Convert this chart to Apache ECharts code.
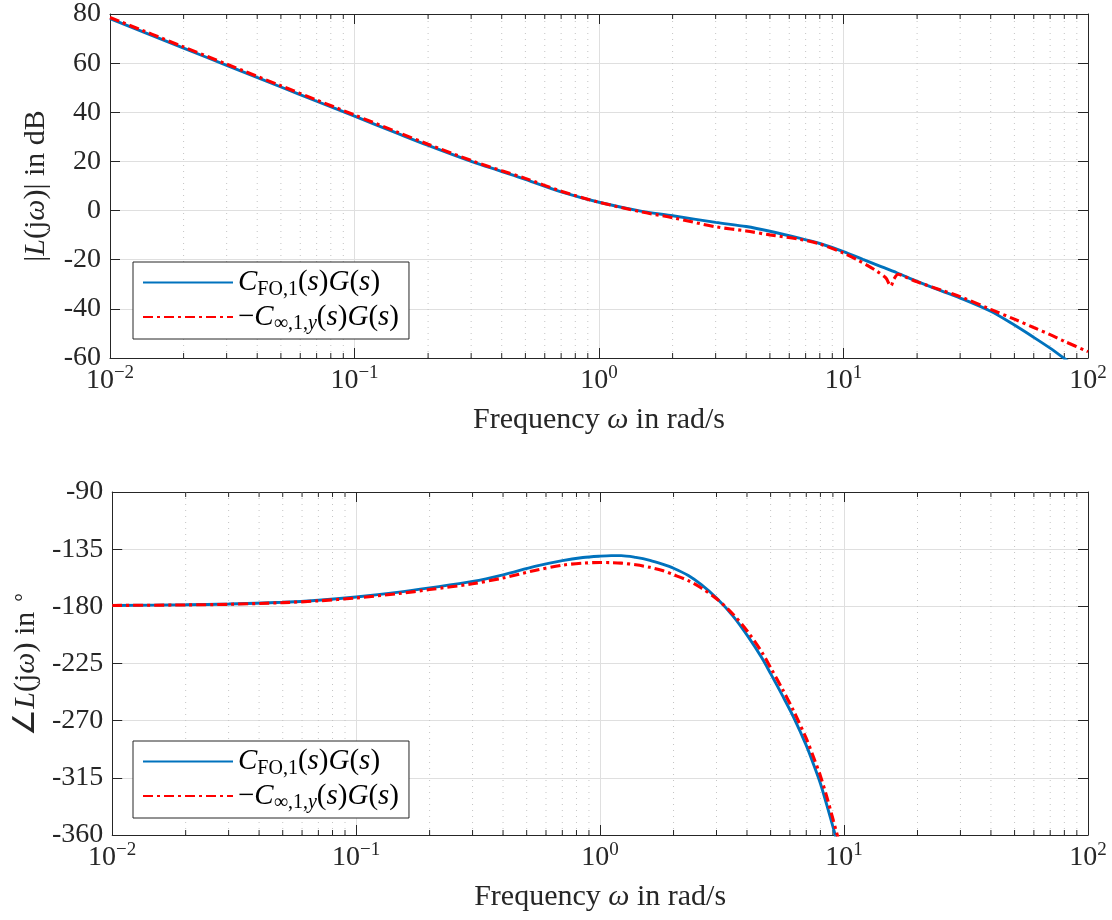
<!DOCTYPE html>
<html>
<head>
<meta charset="utf-8">
<script src="https://cdn.jsdelivr.net/npm/echarts@6/dist/echarts.min.js"></script>
<style>
html,body{margin:0;padding:0;background:#fff;}
#chart{width:1112px;height:920px;}
</style>
</head>
<body>
<div id="chart"></div>
<script>
// ---------- data ----------
const seriesNames = ['CFO', 'Hinf'];
const magTicks = [-60, -40, -20, 0, 20, 40, 60, 80];
const phaseTicks = [-360, -315, -270, -225, -180, -135, -90];
const minorFreqs = [0.02,0.03,0.04,0.05,0.06,0.07,0.08,0.09,
                    0.2,0.3,0.4,0.5,0.6,0.7,0.8,0.9,
                    2,3,4,5,6,7,8,9,
                    20,30,40,50,60,70,80,90];

// magnitude, C_FO,1 G  (dB)
const freqMagFO = [0.01,0.02,0.03,0.05,0.07,0.1,0.15,0.2,0.3,0.4,0.5,0.7,1,1.5,2,3,4,5,6.6,8,10,12,14,16.6,20,25,30,40,50,60,70,80,100];
const magFO     = [78.1,66.1,59.1,50.3,44.5,38.4,31.4,26.5,20.0,15.9,12.7,7.6,3.4,-0.3,-2.1,-4.8,-6.5,-8.4,-11.2,-13.4,-16.7,-19.9,-22.5,-25.4,-28.8,-32.6,-35.6,-41.0,-46.6,-51.6,-56.0,-60.2,-67.3];
// magnitude, -C_inf,1,y G  (dB)
const freqMagHinf = [0.01,0.02,0.03,0.05,0.07,0.1,0.15,0.2,0.3,0.4,0.5,0.7,1,1.5,2,3,4,5,6.6,8,10,11.4,12.5,13.7,14.9,15.6,16.1,16.7,17.5,20,25,30,40,50,60,70,80,100];
const magHinf     = [78.6,66.6,59.6,50.8,45.0,38.9,31.9,27.0,20.4,16.2,13.1,7.9,3.4,-0.6,-2.9,-6.6,-8.3,-9.9,-11.7,-13.6,-17.3,-20.1,-22.3,-24.7,-27.4,-30.7,-27.8,-25.9,-26.6,-29.0,-32.3,-35.0,-40.2,-44.2,-47.6,-50.5,-53.2,-57.4];

// phase (deg)
const freqPh  = [0.01,0.02,0.03,0.05,0.07,0.1,0.15,0.2,0.3,0.4,0.54,0.7,0.85,1.0,1.11,1.22,1.4,1.6,1.8,2.0,2.3,2.6,3.0,3.5,4.03,4.6,5.0,5.6,6.2,7.0,7.5,8.0,8.5,9.05,9.5];
const phFO    = [-179.3,-178.8,-178.2,-176.8,-175.2,-172.6,-168.8,-165.5,-160.4,-155.2,-148.6,-144.0,-141.6,-140.5,-140.1,-140.1,-141.5,-143.8,-146.8,-150.0,-155.8,-163.0,-173.5,-187.5,-203.5,-220.5,-233.0,-250.5,-267.0,-289.5,-304.5,-319.5,-336.5,-355.0,-370.0];
const phHinf  = [-179.3,-178.9,-178.4,-177.1,-175.7,-173.4,-169.9,-166.8,-162.2,-157.7,-151.8,-147.6,-146.0,-145.5,-145.6,-146.0,-147.3,-149.3,-151.8,-155.1,-159.8,-165.6,-174.0,-186.0,-200.0,-216.0,-228.3,-245.5,-262.0,-284.0,-298.8,-313.5,-330.0,-349.0,-364.0];

// ---------- helpers ----------
const FONT = 'Liberation Serif';
const AX = '#262626';
const pair = (xs, ys) => xs.map((x, i) => [x, ys[i]]);

const legendRich = {
  n:   {fontFamily: FONT, fontSize: 29, lineHeight: 34, color: '#000'},
  i:   {fontFamily: FONT, fontSize: 29, lineHeight: 34, color: '#000', fontStyle: 'italic'},
  sub: {fontFamily: FONT, fontSize: 20, lineHeight: 18, color: '#000', verticalAlign: 'bottom'},
  subi:{fontFamily: FONT, fontSize: 20, lineHeight: 18, color: '#000', verticalAlign: 'bottom', fontStyle: 'italic'}
};
const legendLabels = {
  CFO:  '{i|C}{sub|FO,1}{n|(}{i|s}{n|)}{i|G}{n|(}{i|s}{n|)}',
  Hinf: '{n|\u2212}{i|C}{sub|\u221E,1,}{subi|y}{n|(}{i|s}{n|)}{i|G}{n|(}{i|s}{n|)}'
};
const axisRich = {
  n:   {fontFamily: FONT, fontSize: 30, lineHeight: 36, color: AX},
  i:   {fontFamily: FONT, fontSize: 30, lineHeight: 36, color: AX, fontStyle: 'italic'},
  sup: {fontFamily: FONT, fontSize: 21, lineHeight: 19, color: AX, verticalAlign: 'top'}
};
const tickRich = {
  b:   {fontFamily: FONT, fontSize: 28, lineHeight: 34, color: AX},
  sup: {fontFamily: FONT, fontSize: 19, lineHeight: 18, color: AX, verticalAlign: 'top'}
};
const xLabelFmt = v => {
  const e = Math.round(Math.log10(v));
  return '{b|10}{sup|' + (e < 0 ? '\u2212' + (-e) : e) + '}';
};

const GRID_LEFT = 110, GRID_W = 978;
const grids = [
  {left: GRID_LEFT, top: 14, width: GRID_W, height: 344},
  {left: GRID_LEFT, top: 492, width: GRID_W, height: 343}
];
const yRanges = [[-60, 80, 20], [-360, -90, 45]];

function xAxes(gi) {
  const base = {
    type: 'log', logBase: 10, min: 0.01, max: 100, gridIndex: gi,
    axisLine: {show: true, onZero: false, lineStyle: {color: AX, width: 1}},
    axisTick: {show: true, inside: true, length: 10, lineStyle: {color: AX}},
    minorTick: {show: false}
  };
  return [
    Object.assign({}, base, {
      position: 'bottom',
      axisLabel: {show: true, margin: 6, formatter: xLabelFmt, rich: tickRich},
      splitLine: {show: true, lineStyle: {color: '#dfdfdf', width: 1}},
      name: '{n|Frequency }{i|\u03C9}{n| in rad/s}',
      nameLocation: 'middle', nameGap: 44,
      nameTextStyle: {rich: axisRich}
    }),
    Object.assign({}, base, {
      position: 'top', axisLabel: {show: false}, splitLine: {show: false}
    })
  ];
}
function yAxes(gi, name) {
  const r = yRanges[gi];
  const base = {
    type: 'value', min: r[0], max: r[1], interval: r[2], gridIndex: gi,
    axisLine: {show: true, onZero: false, lineStyle: {color: AX, width: 1}},
    axisTick: {show: true, inside: true, length: 10, lineStyle: {color: AX}}
  };
  return [
    Object.assign({}, base, {
      position: 'left',
      axisLabel: {show: true, margin: 9, fontFamily: FONT, fontSize: 28, color: AX},
      splitLine: {show: true, lineStyle: {color: '#dfdfdf', width: 1}},
      name: name, nameLocation: 'middle', nameGap: 56, nameRotate: 90,
      nameTextStyle: {rich: axisRich}
    }),
    Object.assign({}, base, {
      position: 'right', axisLabel: {show: false}, splitLine: {show: false}
    })
  ];
}

function minorGridSeries(gi) {
  const r = yRanges[gi];
  return {
    type: 'custom', xAxisIndex: gi * 2, yAxisIndex: gi * 2, silent: true, z: 1,
    data: minorFreqs.map(f => [f]),
    renderItem: (params, api) => {
      const f = api.value(0);
      const b = api.coord([f, r[0]]);
      const t = api.coord([f, r[1]]);
      return {type: 'group', children: [
        {type: 'line', shape: {x1: b[0], y1: b[1], x2: t[0], y2: t[1]},
         style: {stroke: '#c4c4c4', lineWidth: 1, lineDash: [1, 5]}},
        {type: 'line', shape: {x1: b[0], y1: b[1], x2: b[0], y2: b[1] - 5},
         style: {stroke: AX, lineWidth: 1}},
        {type: 'line', shape: {x1: t[0], y1: t[1], x2: t[0], y2: t[1] + 5},
         style: {stroke: AX, lineWidth: 1}}
      ]};
    }
  };
}

function lineSeries(gi, name, data) {
  const isFO = name === 'CFO';
  return {
    type: 'line', name: name, xAxisIndex: gi * 2, yAxisIndex: gi * 2,
    data: data, showSymbol: false, symbol: 'none', smooth: 0.3, clip: true, z: isFO ? 3 : 4,
    lineStyle: isFO ? {color: '#0072BD', width: 2.9, type: 'solid'}
                    : {color: '#FF0000', width: 3.1, type: [10, 4, 3, 4]},
    itemStyle: {color: isFO ? '#0072BD' : '#FF0000'}
  };
}

function legendAt(top) {
  return {
    data: seriesNames, orient: 'vertical', left: 133, top: top,
    itemWidth: 90, itemHeight: 14, itemGap: 3, padding: [6, 10, 5, 9],
    borderColor: AX, borderWidth: 1, backgroundColor: '#fff', borderRadius: 0,
    selectedMode: false,
    itemStyle: {color: 'rgba(0,0,0,0)', borderColor: 'rgba(0,0,0,0)', borderWidth: 0, opacity: 0},
    formatter: n => legendLabels[n],
    textStyle: {rich: legendRich}
  };
}

const chart = echarts.init(document.getElementById('chart'), null, {renderer: 'canvas'});
chart.setOption({
  backgroundColor: '#fff',
  animation: false,
  grid: grids,
  xAxis: [].concat(xAxes(0), xAxes(1)),
  yAxis: [].concat(
    yAxes(0, '{n|\u007C}{i|L}{n|(j}{i|\u03C9}{n|)\u007C in dB}'),
    yAxes(1, '{n|\u2220}{i|L}{n|(j}{i|\u03C9}{n|) in }{sup|\u2218}')
  ),
  legend: [legendAt(262), legendAt(741)],
  series: [
    minorGridSeries(0),
    minorGridSeries(1),
    lineSeries(0, 'CFO', pair(freqMagFO, magFO)),
    lineSeries(0, 'Hinf', pair(freqMagHinf, magHinf)),
    lineSeries(1, 'CFO', pair(freqPh, phFO)),
    lineSeries(1, 'Hinf', pair(freqPh, phHinf))
  ]
});
</script>
</body>
</html>
